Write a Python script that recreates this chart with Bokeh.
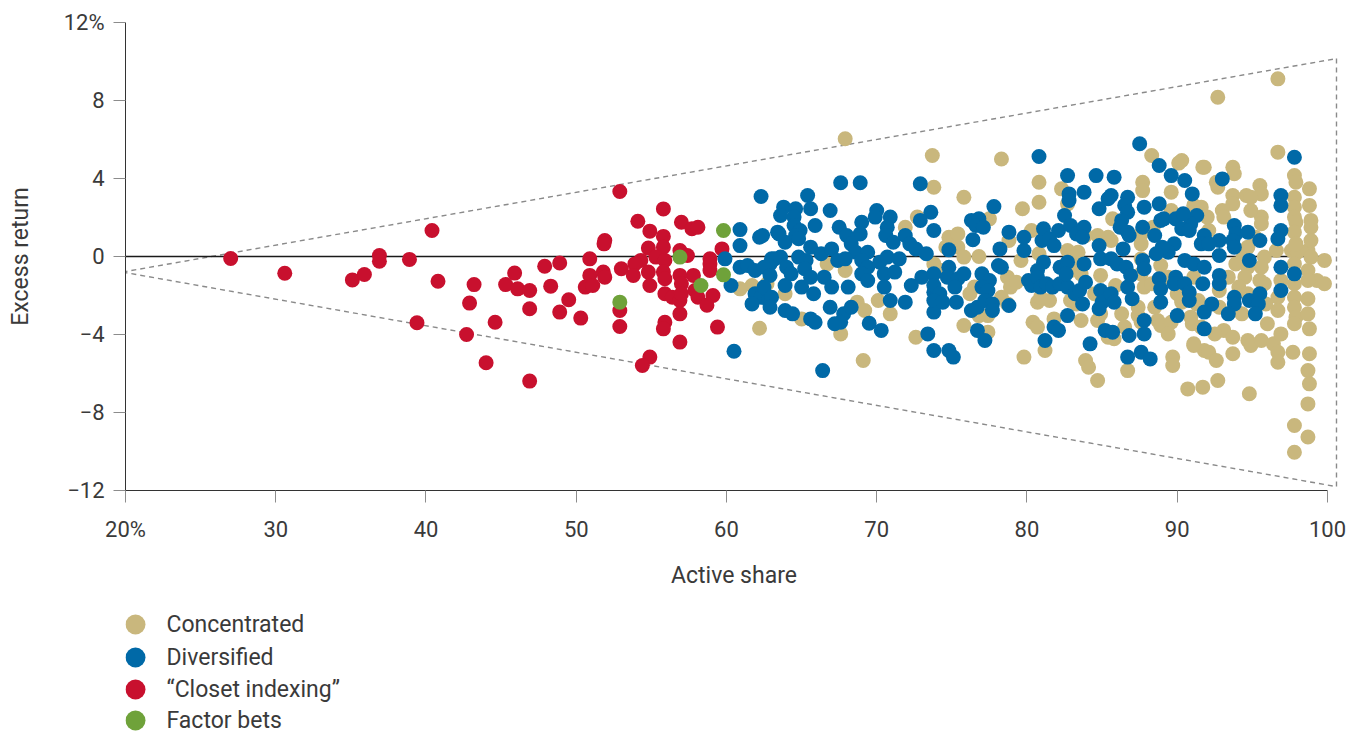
from bokeh.plotting import figure
from bokeh.models import Range1d, FixedTicker
from bokeh.layouts import column
from bokeh.core.properties import value
from bokeh.embed import file_html
from bokeh.resources import INLINE

# ---------------- data ----------------
categories = ["Concentrated", "Diversified", "\u201cCloset indexing\u201d", "Factor bets"]
colors = ["#C9B77D", "#0069A7", "#C8102E", "#6FA23A"]

closet_pts = [
    (27.0, -0.1), (30.6, -0.86), (35.1, -1.2), (35.9, -0.92), (36.9, 0.05), (36.9, -0.24),
    (38.9, -0.15), (40.4, 1.33), (39.4, -3.4), (40.8, -1.27), (52.9, 3.33),
    (43.2, -1.44), (42.9, -2.39), (42.7, -4.0), (44.0, -5.45), (44.6, -3.37), (45.9, -0.85),
    (45.3, -1.44), (46.1, -1.66), (46.9, -1.74), (46.9, -2.68), (46.9, -6.39), (47.9, -0.5),
    (48.9, -0.33), (48.3, -1.52), (49.5, -2.22), (48.9, -2.85), (50.3, -3.16), (50.9, -0.12),
    (50.9, -0.97), (50.6, -1.57), (51.1, -1.49), (51.8, -0.8), (51.9, -1.06), (51.9, 0.82),
    (51.85, 0.65), (53.0, -0.63), (52.9, -2.77), (52.9, -3.59),
    (55.8, 2.44), (54.1, 1.81), (54.9, 1.3), (57.0, 1.76), (57.7, 1.42), (58.1, 1.5),
    (55.8, 1.03), (54.8, 0.43), (55.8, 0.48), (56.9, 0.31), (57.4, 0.05), (58.9, -0.12),
    (59.7, 0.39), (54.3, -0.2), (53.9, -0.38), (55.3, -0.03), (55.9, -0.2), (53.8, -0.97),
    (54.8, -0.8), (55.8, -0.8), (55.9, -1.14), (56.9, -0.97), (57.0, -1.4), (57.8, -0.97),
    (58.9, -0.38), (58.9, -0.72), (54.9, -1.49), (55.9, -1.91), (56.4, -2.09), (56.9, -2.26),
    (57.0, -1.91), (57.9, -1.74), (58.1, -2.09), (59.1, -2.0), (58.7, -2.5), (56.9, -2.94),
    (55.9, -3.37), (55.8, -3.71), (59.4, -3.62), (56.9, -4.39), (54.9, -5.16), (54.4, -5.59),
]

factor_pts = [(56.9, -0.03), (59.8, 1.33), (59.8, -0.94), (58.3, -1.49), (52.9, -2.34)]

diversified_pts = [
    (62.3, 3.08), (60.9, 1.38), (62.2, 0.99), (60.9, 0.56), (59.9, -0.12), (60.5, -4.86), (63.4, 1.25),
    (60.9, -0.55), (61.4, -0.46), (61.9, -0.72), (62.9, -0.38), (63.2, -0.12), (60.3, -1.49),
    (61.9, -1.91), (62.3, -2.09), (62.8, -2.26), (61.7, -2.43),
    (67.6, 3.78), (68.9, 3.78), (72.9, 3.73), (65.4, 3.13), (63.8, 2.53), (63.6, 2.1), (64.6, 2.45),
    (64.5, 2.02), (65.6, 2.45), (66.9, 2.36), (65.9, 1.59), (64.5, 1.59), (64.9, 1.33), (63.5, 1.16),
    (63.9, 0.73), (64.6, 1.08), (64.8, 0.91), (62.4, 1.08), (70.0, 2.36), (69.9, 2.02), (70.9, 2.02),
    (70.7, 1.5), (69.0, 1.76), (68.9, 1.16), (67.5, 1.5), (68.0, 1.08), (73.6, 2.27), (73.8, 1.33),
    (72.9, 1.85), (70.6, 1.08), (71.1, 0.73), (71.9, 1.08), (72.2, 0.65), (72.6, 0.39), (73.3, 0.14),
    (65.6, 0.48), (66.3, 0.14), (67.0, 0.39), (68.3, 0.65), (68.6, 0.22), (69.4, 0.22), (63.0, -0.12),
    (63.6, -0.03), (64.8, -0.03), (65.3, -0.2), (67.4, -0.2), (67.9, -0.12), (69.0, -0.2), (69.4, -0.55),
    (70.2, -0.29), (70.7, -0.03), (71.5, -0.12), (62.5, -0.55), (62.9, -0.97), (64.0, -0.55),
    (64.3, -0.89), (65.2, -0.63), (65.6, -1.06), (66.5, -1.06), (69.0, -0.89), (69.4, -1.23),
    (70.5, -0.89), (71.2, -0.8), (73.0, -1.06), (73.8, -0.89), (62.5, -1.57), (63.0, -2.09),
    (62.9, -2.6), (63.9, -1.49), (65.0, -1.57), (65.8, -1.91), (67.0, -1.57), (68.1, -1.57),
    (70.5, -1.57), (70.9, -2.26), (71.9, -2.34), (72.3, -1.49), (73.8, -1.83), (73.8, -2.85),
    (63.9, -2.77), (64.4, -2.94), (65.6, -3.2), (65.9, -3.37), (66.9, -2.6), (67.8, -2.94),
    (68.3, -2.6), (67.6, -3.37), (67.2, -3.45), (69.5, -3.42), (70.3, -3.79), (73.4, -3.97),
    (73.8, -4.82), (66.4, -5.85),
    (80.8, 5.13), (82.7, 4.15), (82.8, 3.21), (82.8, 2.87), (77.8, 2.56), (76.3, 1.85), (76.8, 1.93),
    (76.6, 1.59), (77.1, 1.5), (76.4, 0.86), (78.8, 1.25), (79.8, 0.99), (79.8, 0.31), (78.2, 0.39),
    (81.1, 1.42), (81.0, 0.82), (81.5, 0.91), (82.1, 1.33), (81.8, 0.56), (82.5, 2.1), (82.9, 1.59),
    (83.3, 1.16), (74.8, 0.34), (78.1, -0.46), (78.3, -0.55), (81.1, -0.29), (80.7, -0.72),
    (82.2, -0.55), (82.7, -0.29), (74.8, -0.55), (74.7, -1.06), (75.4, -1.14), (75.8, -0.89),
    (75.2, -1.57), (77.0, -0.89), (77.5, -1.23), (77.0, -1.57), (77.4, -1.74), (73.8, -1.49),
    (74.2, -1.91), (73.8, -2.26), (74.4, -2.34), (75.3, -2.34), (76.3, -2.77), (76.7, -2.6),
    (77.2, -2.26), (77.7, -2.43), (77.7, -2.77), (78.8, -2.51), (80.1, -1.23), (80.3, -1.49),
    (80.7, -1.06), (80.9, -1.57), (81.3, -1.4), (81.7, -1.57), (82.2, -1.4), (82.7, -1.57),
    (83.2, -1.91), (83.5, -1.74), (82.7, -3.03), (81.8, -3.62), (82.1, -3.79), (81.2, -4.31),
    (74.8, -4.82), (75.1, -5.16), (76.7, -3.79), (77.2, -4.31),
    (87.5, 5.78), (88.8, 4.67), (89.6, 4.15), (90.5, 3.9), (91.0, 3.21), (84.6, 4.15), (85.8, 4.07),
    (83.8, 3.3), (85.6, 3.13), (85.4, 2.96), (84.8, 2.45), (86.7, 3.04), (86.5, 2.62), (86.7, 2.27),
    (87.8, 2.53), (88.8, 2.7), (91.3, 2.1), (90.9, 1.68), (83.8, 1.5), (83.7, 0.99), (86.3, 1.85),
    (86.2, 1.5), (86.7, 1.25), (86.8, 1.08), (87.7, 1.5), (88.5, 1.08), (88.9, 1.85), (89.1, 1.93),
    (89.9, 1.93), (90.3, 1.42), (90.8, 1.33), (91.8, 1.08), (91.6, 0.65), (89.8, 0.65), (89.4, 0.22),
    (89.0, 0.48), (84.8, 0.56), (86.4, 0.39), (88.6, 0.14), (82.6, -0.89), (83.8, -0.38), (84.9, -0.12),
    (85.6, -0.12), (86.0, -0.38), (86.6, -0.55), (86.9, -0.97), (87.7, -0.2), (87.8, -0.63),
    (90.5, -0.2), (91.1, -0.38), (91.8, -0.55), (88.8, -1.14), (88.9, -1.66), (89.9, -1.06),
    (89.8, -1.4), (90.5, -1.4), (90.8, -1.83), (90.8, -2.26), (91.7, -1.4), (83.9, -1.32),
    (83.7, -2.43), (84.9, -1.74), (85.0, -2.34), (84.8, -2.68), (85.6, -1.91), (85.8, -2.34),
    (86.7, -1.57), (87.0, -2.17), (88.9, -2.34), (90.0, -3.03), (91.8, -2.85), (91.8, -3.71),
    (85.2, -3.79), (85.7, -3.88), (86.8, -4.05), (87.8, -3.28), (87.8, -3.97), (84.2, -4.48),
    (86.7, -5.16), (87.6, -4.91), (88.2, -5.25),
    (97.8, 5.09), (93.0, 3.98), (90.4, 2.19), (96.9, 3.13), (96.9, 2.62), (93.8, 1.59), (93.9, 1.16),
    (94.7, 1.25), (96.9, 1.33), (96.7, 0.91), (95.5, 0.82), (92.8, 0.82), (92.1, 0.65), (93.7, 0.82),
    (93.8, 0.48), (92.8, 0.05), (94.8, -0.2), (96.9, -0.55), (97.8, -0.89), (92.8, -0.97),
    (92.8, -1.4), (93.8, -2.09), (93.8, -2.43), (94.8, -2.26), (95.5, -1.91), (95.4, -2.43),
    (95.2, -2.94), (96.9, -1.74), (92.3, -2.43), (93.4, -2.94),
]

concentrated_pts = [
    (62.2, -3.68), (60.9, -1.66), (61.7, -1.49), (62.7, -1.4), (67.9, 6.04), (73.7, 5.18), (73.8, 3.55),
    (67.6, -3.97), (69.1, -5.33), (72.6, -4.14), (70.9, -2.94), (68.7, -2.34), (69.2, -2.77),
    (70.1, -2.26), (65.0, -3.2), (67.9, -0.72), (63.9, -1.91), (71.9, 1.5), (72.7, 2.02),
    (73.8, -0.38), (66.7, -0.38),
    (78.3, 5.0), (75.8, 3.04), (79.7, 2.45), (80.8, 3.81), (80.8, 2.78), (82.3, 3.47), (77.5, 1.93),
    (74.8, 0.99), (75.4, 1.16), (74.6, 0.48), (75.4, 0.48), (75.8, -0.03), (76.8, 0.0), (78.8, 0.82),
    (80.3, 1.33), (80.8, 0.14), (82.7, 0.31), (83.3, -0.03), (74.3, -0.72), (76.5, -1.57),
    (76.2, -1.91), (78.7, -1.06), (78.9, -1.57), (79.3, -1.32), (78.3, -2.09), (78.7, -2.43),
    (77.4, -3.03), (76.8, -3.03), (80.7, -2.34), (81.5, -2.26), (75.8, -3.54), (77.4, -3.88),
    (80.4, -3.37), (80.7, -3.62), (81.8, -3.2), (81.2, -4.82), (79.8, -5.16), (82.9, -2.26),
    (83.3, -2.43), (82.5, -0.46), (82.9, -0.72), (80.9, -2.09), (79.6, -0.2),
    (88.3, 5.18), (90.1, 4.79), (91.7, 4.58), (87.7, 3.81), (87.7, 3.38), (85.7, 1.93), (87.6, 1.16),
    (87.6, 0.65), (89.6, 2.36), (84.7, 1.08), (85.4, 0.99), (83.4, 0.22), (83.4, -0.63), (83.6, -0.89),
    (84.9, -0.97), (85.9, -1.49), (87.6, -0.89), (87.8, -1.57), (88.3, -1.4), (90.0, -1.91),
    (90.3, -2.34), (84.9, -2.94), (84.7, -3.28), (86.3, -2.94), (87.4, -3.03), (87.6, -3.37),
    (88.7, -3.28), (88.9, -3.54), (89.6, -3.37), (91.0, -3.45), (85.4, -4.14), (85.8, -4.22),
    (86.7, -5.85), (83.9, -5.33), (84.1, -5.68), (84.7, -6.36), (89.7, -5.16), (89.7, -5.59),
    (91.1, -4.56), (91.8, -4.82), (90.7, -6.79), (91.7, -6.7),
    (83.9, 1.08), (85.6, 0.82), (87.6, -0.12), (88.9, -0.46), (89.4, -1.06), (91.1, -1.06),
    (88.5, -2.6), (87.4, -2.6), (91.4, -2.26), (84.5, -1.91), (83.2, -2.26), (83.6, -3.28),
    (86.5, -3.62), (89.4, -3.97), (88.4, 1.5), (89.6, 3.3), (91.1, 2.62), (92.0, 2.02), (82.7, 2.7),
    (96.7, 9.11), (92.7, 8.17), (96.7, 5.35), (91.8, 4.58), (93.7, 4.58), (93.8, 4.24), (97.8, 4.15),
    (97.9, 3.81), (98.8, 3.47), (95.5, 3.64), (95.6, 3.21), (94.6, 3.13), (94.9, 3.04), (92.7, 3.55),
    (93.7, 3.13), (93.7, 2.7), (93.0, 2.36), (93.1, 2.02), (97.8, 3.04), (97.8, 2.53), (97.8, 2.02),
    (98.8, 2.62), (98.9, 1.85), (98.9, 1.5), (97.9, 1.76), (97.8, 1.25), (95.6, 2.02), (92.1, 1.33),
    (95.2, 0.99), (96.6, 0.31), (97.6, 0.31), (98.0, 0.22), (98.7, 0.31), (99.8, -0.2), (99.3, -1.23),
    (99.8, -1.4), (98.7, -0.72), (98.7, -1.23), (94.4, -0.03), (94.7, -0.55), (94.5, -1.06),
    (94.1, -1.57), (94.7, -1.91), (95.5, -1.23), (95.8, -1.4), (96.7, -2.09), (96.7, -2.77),
    (97.8, -1.4), (97.8, -2.09), (97.8, -2.6), (97.9, -3.11), (98.7, -2.17), (98.7, -2.94),
    (92.8, -1.74), (90.9, -3.11), (91.6, -3.62), (93.1, -3.79), (93.7, -4.14), (91.1, -4.48),
    (92.1, -4.91), (92.6, -5.33), (94.7, -4.31), (94.9, -4.56), (95.6, -4.31), (96.4, -4.48),
    (96.7, -4.91), (96.7, -5.42), (93.7, -4.99), (97.7, -4.91), (98.8, -4.99), (98.7, -5.85),
    (98.8, -6.53), (92.7, -6.36), (94.8, -7.04), (98.7, -7.56), (97.8, -8.67), (98.7, -9.26),
    (97.8, -10.04),
    (90.3, 4.92), (92.6, 3.81), (91.6, 2.53), (94.9, 2.36), (95.6, 1.68), (94.7, 0.48), (95.8, -0.03),
    (93.9, -0.38), (93.4, -1.06), (95.6, -0.55), (96.9, -1.23), (95.9, -2.43), (94.3, -2.94),
    (92.8, -2.6), (91.3, -2.43), (90.3, -2.26), (92.5, -3.97), (96.0, -3.45), (96.9, -3.97),
    (97.8, -3.45), (98.8, -3.71), (97.8, -0.38), (97.9, 0.65), (98.9, 0.82), (98.9, -0.03),
]

# funnel (dashed cone) and zero reference line
cone_x = [19.8, 100.6]
cone_upper = [-0.8, 10.15]
cone_lower = [-0.8, -11.8]
zero_x = [20, 100]
zero_y = [0, 0]

x_ticks = [20, 30, 40, 50, 60, 70, 80, 90, 100]
x_tick_labels = ["20%", "30", "40", "50", "60", "70", "80", "90", "100"]
y_ticks = [-12, -8, -4, 0, 4, 8, 12]
y_tick_labels = ["\u221212", "\u22128", "\u22124", "0", "4", "8", "12%"]

FONT = "Roboto"
TXT = "#3a3a3a"
LEFT = 125
FRAME_W = 1217

# ---------------- main figure ----------------
p = figure(frame_width=FRAME_W, frame_height=468, min_border_left=LEFT, min_border_right=10,
           min_border_top=22, min_border_bottom=110,
           x_range=Range1d(20, 101), y_range=Range1d(-12, 12),
           output_backend="svg", toolbar_location=None, tools="")
p.outline_line_color = None
p.grid.visible = False
p.background_fill_color = "white"
p.border_fill_color = "white"

# cone
p.line(cone_x, cone_upper, line_color="#8a8a8a", line_width=1.4, line_dash="5 4")
p.line(cone_x, cone_lower, line_color="#8a8a8a", line_width=1.4, line_dash="5 4")
p.line([cone_x[1], cone_x[1]], [cone_upper[1], cone_lower[1]], line_color="#8a8a8a",
       line_width=1.4, line_dash="5 4")
p.line(zero_x, zero_y, line_color="#1a1a1a", line_width=1.6)

series = [concentrated_pts, closet_pts, diversified_pts, factor_pts]
series_colors = [colors[0], colors[2], colors[1], colors[3]]
for pts, c in zip(series, series_colors):
    xs = [a for a, b in pts]
    ys = [b for a, b in pts]
    p.scatter(xs, ys, size=15, fill_color=c, line_color=None)

for ax in (p.xaxis[0], p.yaxis[0]):
    ax.axis_line_color = "#333333"
    ax.axis_line_width = 1
    ax.major_tick_line_color = "#8c8c8c"
    ax.major_tick_out = 12
    ax.major_tick_in = 0
    ax.minor_tick_line_color = None
    ax.major_label_text_font = FONT
    ax.major_label_text_font_size = "22px"
    ax.major_label_text_color = TXT
    ax.axis_label_text_font = FONT
    ax.axis_label_text_font_size = "23px"
    ax.axis_label_text_font_style = "normal"
    ax.axis_label_text_color = TXT

p.xaxis.ticker = FixedTicker(ticks=x_ticks)
p.xaxis.major_label_overrides = {t: l for t, l in zip(x_ticks, x_tick_labels)}
p.xaxis.bounds = (20, 100)
p.xaxis.axis_label = "Active share"
p.xaxis.major_label_standoff = 14
p.xaxis.axis_label_standoff = 17

p.yaxis.ticker = FixedTicker(ticks=y_ticks)
p.yaxis.major_label_overrides = {t: l for t, l in zip(y_ticks, y_tick_labels)}
p.yaxis.bounds = (-12, 12)
p.yaxis.axis_label = "Excess return"
p.yaxis.major_label_standoff = 9
p.yaxis.axis_label_standoff = 27

# ---------------- legend (drawn below) ----------------
leg = figure(frame_width=FRAME_W, frame_height=134, min_border=0,
             min_border_left=LEFT, min_border_right=10,
             x_range=Range1d(0, FRAME_W), y_range=Range1d(0, 134),
             output_backend="svg", toolbar_location=None, tools="")
leg.axis.visible = False
leg.grid.visible = False
leg.outline_line_color = None
leg_y = [110, 77, 45, 14]
leg.scatter([10] * 4, leg_y, size=20, fill_color=colors, line_color=None)
leg.text([41] * 4, leg_y, text=categories, text_font=value(FONT), text_font_size="23px",
         text_color=TXT, text_baseline="middle", text_align="left")

layout = column(p, leg, spacing=0)
open("out.html", "w").write(file_html(layout, INLINE))
